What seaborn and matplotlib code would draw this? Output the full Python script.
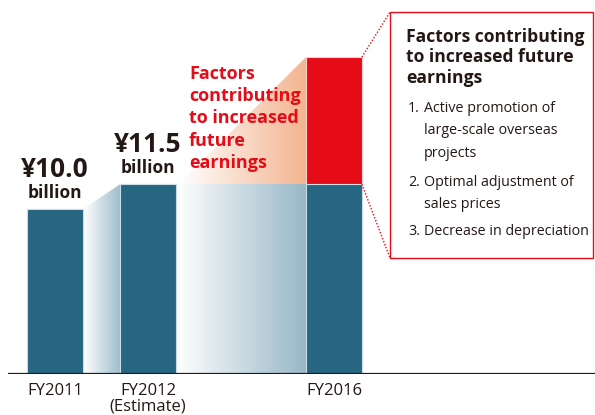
import matplotlib
matplotlib.use("Agg")
import matplotlib.pyplot as plt
import numpy as np
import pandas as pd
import seaborn as sns
from matplotlib.colors import LinearSegmentedColormap
from matplotlib.patches import Polygon, Rectangle

# ---- data ----
years = ["FY2011", "FY2012", "FY2016"]
base_values = [10.0, 11.5, 11.5]
extra_values = [0.0, 0.0, 7.7]
tick_labels = ["FY2011", "FY2012\n(Estimate)", "FY2016"]
value_labels = ["¥10.0", "¥11.5", ""]
slot_order = ["FY2011", "FY2012", "gap", "FY2016"]

caption_lines = ["Factors", "contributing", "to increased", "future", "earnings"]
title_lines = ["Factors contributing", "to increased future", "earnings"]
factors_items = [
    ("1.", ["Active promotion of", "large-scale overseas", "projects"]),
    ("2.", ["Optimal adjustment of", "sales prices"]),
    ("3.", ["Decrease in depreciation"]),
]

TEAL = "#266680"
RED = "#e50c18"
DARK = "#231815"

sns.set_style("white")
plt.rcParams["font.family"] = ["Open Sans", "DejaVu Sans"]

df = pd.DataFrame({"year": years, "base": base_values, "extra": extra_values})
df["total"] = df["base"] + df["extra"]

BASE_PX = 374          # baseline row in pixels
UNIT_X, UNIT_Y = 93.0, 16.5
fig = plt.figure(figsize=(5.95, 4.15), dpi=100)
ax = fig.add_axes([8 / 595, (415 - BASE_PX) / 415, 1 - 8 / 595, BASE_PX / 415])

# stacked bars: total (red) first, base (teal) on top
sns.barplot(data=df, x="year", y="total", order=slot_order, color=RED,
            width=0.6, saturation=1, edgecolor="#f4d0d0", linewidth=0.8, ax=ax, zorder=3)
sns.barplot(data=df, x="year", y="base", order=slot_order, color=TEAL,
            width=0.6, saturation=1, edgecolor="#c9dbe3", linewidth=0.8, ax=ax, zorder=4)


def bar_box(cat):
    x = slot_order.index(cat)
    return x - 0.3, x + 0.3


def gradient_fill(verts, c0, c1, z=1):
    poly = Polygon(verts, closed=True, facecolor="none", edgecolor="none")
    ax.add_patch(poly)
    xs = [v[0] for v in verts]
    ys = [v[1] for v in verts]
    cmap = LinearSegmentedColormap.from_list("g", [c0, c1])
    img = np.linspace(0, 1, 256).reshape(1, -1)
    im = ax.imshow(img, extent=[min(xs), max(xs), min(ys), max(ys)], aspect="auto",
                   cmap=cmap, origin="lower", zorder=z, interpolation="bilinear")
    im.set_clip_path(poly)


_, r11 = bar_box("FY2011")
l12, r12 = bar_box("FY2012")
l16, r16 = bar_box("FY2016")
top_total = df["total"].iloc[2]

# connectors between bars
gradient_fill([(r11, 0), (l12, 0), (l12, base_values[1]), (r11, base_values[0])],
              "#ffffff", "#9dbccb")
gradient_fill([(r12, 0), (l16, 0), (l16, base_values[2]), (r12, base_values[1])],
              "#ffffff", "#98b7c7")
# orange wedge for future earnings factors
gradient_fill([(r12 + 0.03, base_values[2]), (l16, base_values[2]), (l16, top_total)],
              "#ffffff", "#f3b48f")

# limits fixed before any transform-based placement
ax.set_xlim((8 - 55) / UNIT_X, (595 - 55) / UNIT_X)
ax.set_ylim(0, BASE_PX / UNIT_Y)

# baseline
ax.axhline(0, color=DARK, lw=1.6, zorder=6)

# value labels above bars
for i, (lab, val) in enumerate(zip(value_labels, base_values)):
    if not lab:
        continue
    x = slot_order.index(years[i])
    ax.annotate("billion", (x, val), xytext=(0, 11.5), textcoords="offset points",
                ha="center", va="center", fontsize=12.5, fontweight="bold", color=DARK)
    ax.annotate(lab, (x, val), xytext=(0, 28.5), textcoords="offset points",
                ha="center", va="center", fontsize=19, fontweight="bold", color=DARK)

px = lambda x, y: (x / 595, 1 - y / 415)

# red caption
for k, line in enumerate(caption_lines):
    fig.text(*px(189, 74 + 22.2 * k), line, ha="left", va="center", fontsize=13,
             fontweight="bold", color=RED, zorder=7)

# callout box
box_l, box_t, box_r, box_b = 390, 12, 593, 258
fig.patches.append(Rectangle(px(box_l, box_b), (box_r - box_l) / 595,
                             (box_b - box_t) / 415, transform=fig.transFigure,
                             facecolor="white", edgecolor=RED, lw=1.0))
for yv, (bx, by) in [(top_total, (box_l, box_t)), (base_values[2], (box_l, box_b))]:
    start = fig.transFigure.inverted().transform(ax.transData.transform((r16, yv)))
    end = px(bx, by)
    fig.add_artist(plt.Line2D([start[0], end[0]], [start[1], end[1]],
                              transform=fig.transFigure, color=RED, lw=1.0,
                              linestyle=(0, (1.0, 1.3))))

for k, line in enumerate(title_lines):
    fig.text(*px(406, 37 + 20.5 * k), line, ha="left", va="center", fontsize=12.6,
             fontweight="bold", color=DARK)

item_starts = [108, 182, 231]
for (num, body), y0 in zip(factors_items, item_starts):
    fig.text(*px(408, y0), num, ha="left", va="center", fontsize=10.3, color=DARK)
    for k, line in enumerate(body):
        fig.text(*px(424, y0 + 22.5 * k), line, ha="left", va="center",
                 fontsize=10.3, color=DARK)

# axes styling
ax.set_xticks([slot_order.index(y) for y in years])
ax.set_xticklabels(tick_labels, fontsize=12, color=DARK, linespacing=0.96)
ax.tick_params(axis="x", length=0, pad=6.5)
ax.set_yticks([])
ax.set_xlabel("")
ax.set_ylabel("")
sns.despine(ax=ax, left=True, bottom=True)

fig.savefig("out.png", dpi=100)
